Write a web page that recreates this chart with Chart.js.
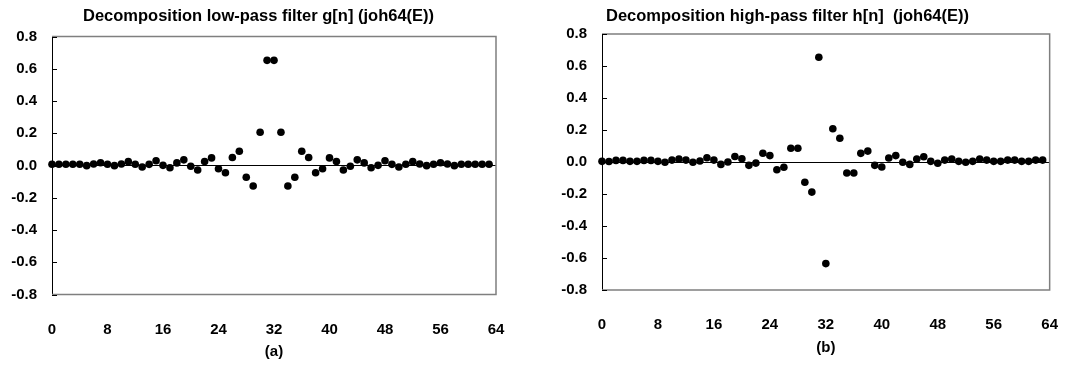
<!DOCTYPE html>
<html>
<head>
<meta charset="utf-8">
<script src="https://cdn.jsdelivr.net/npm/chart.js@4.4.0/dist/chart.umd.min.js"></script>
<style>
  body { margin: 0; background: #fff; }
  #wrap { position: relative; width: 1076px; height: 367px; }
  canvas { position: absolute; top: 0; }
  #lowChart { left: 0; }
  #highChart { left: 540px; }
  .ttl {
    position: absolute;
    top: 6px;
    font: bold 16.5px 'Liberation Sans', Arial, sans-serif;
    line-height: 19px;
    white-space: pre;
    color: #000;
  }
</style>
</head>
<body>
<div id="wrap">
  <canvas id="lowChart" width="540" height="367"></canvas>
  <canvas id="highChart" width="536" height="367"></canvas>
  <div class="ttl" id="lowTitle" style="left:83px"></div>
  <div class="ttl" id="highTitle" style="left:606px"></div>
</div>
<script>
// tick labels
const xTicks = [0, 8, 16, 24, 32, 40, 48, 56, 64];
const yTicks = [-0.8, -0.6, -0.4, -0.2, 0, 0.2, 0.4, 0.6, 0.8];

// g[n], n = 0..63
const lowPass = [
  0.008, 0.008, 0.008, 0.008, 0.008, -0.001, 0.009, 0.017,
  0.008, -0.001, 0.009, 0.024, 0.008, -0.009, 0.007, 0.029,
  0.001, -0.014, 0.016, 0.035, -0.005, -0.028, 0.025, 0.047,
  -0.020, -0.045, 0.050, 0.088, -0.073, -0.127, 0.206, 0.652,
  0.652, 0.206, -0.127, -0.073, 0.088, 0.050, -0.045, -0.020,
  0.047, 0.025, -0.028, -0.005, 0.035, 0.016, -0.014, 0.001,
  0.029, 0.007, -0.009, 0.008, 0.024, 0.009, -0.001, 0.008,
  0.017, 0.009, -0.001, 0.008, 0.008, 0.008, 0.008, 0.008
];

// h[n], n = 0..63
const highPass = [
  0.004, 0.003, 0.010, 0.010, 0.004, 0.004, 0.010, 0.010,
  0.004, -0.002, 0.012, 0.019, 0.012, -0.002, 0.006, 0.027,
  0.012, -0.015, 0.000, 0.034, 0.020, -0.021, -0.007, 0.055,
  0.040, -0.048, -0.033, 0.086, 0.086, -0.127, -0.188, 0.655,
  -0.635, 0.208, 0.148, -0.069, -0.069, 0.054, 0.068, -0.021,
  -0.031, 0.025, 0.040, -0.002, -0.015, 0.019, 0.033, 0.004,
  -0.008, 0.012, 0.019, 0.004, -0.002, 0.004, 0.019, 0.012,
  0.004, 0.004, 0.012, 0.012, 0.004, 0.004, 0.012, 0.012
];

const lowTitle = 'Decomposition low-pass filter g[n] (joh64(E))';
const highTitle = 'Decomposition high-pass filter h[n]  (joh64(E))';

const FONT = "'Liberation Sans', Arial, sans-serif";

// grey frame on top/right/bottom + short inward ticks on the y axis
const plotFrame = {
  id: 'plotFrame',
  beforeDatasetsDraw(chart) {
    const { ctx, chartArea: a } = chart;
    const y = chart.scales.y;
    ctx.save();
    ctx.strokeStyle = '#7f7f7f';
    ctx.lineWidth = 1.5;
    ctx.beginPath();
    ctx.moveTo(a.left, a.top);
    ctx.lineTo(a.right, a.top);
    ctx.lineTo(a.right, a.bottom);
    ctx.lineTo(a.left, a.bottom);
    ctx.stroke();
    ctx.strokeStyle = '#000';
    ctx.lineWidth = 1;
    ctx.beginPath();
    y.ticks.forEach(t => {
      const py = Math.round(y.getPixelForValue(t.value)) + 0.5;
      ctx.moveTo(a.left, py);
      ctx.lineTo(a.left + 5, py);
    });
    ctx.stroke();
    ctx.restore();
  }
};

function makeChart(id, sub, values, cfg) {
  return new Chart(document.getElementById(id), {
    type: 'scatter',
    data: {
      datasets: [{
        data: values.map((v, n) => ({ x: n, y: v })),
        backgroundColor: '#000',
        borderWidth: 0,
        pointRadius: 3.8,
        pointHoverRadius: 3.8,
        clip: false
      }]
    },
    options: {
      responsive: false,
      animation: false,
      devicePixelRatio: 1,
      layout: { padding: { left: 0, right: cfg.padRight, top: cfg.padTop, bottom: 0 } },
      plugins: {
        legend: { display: false },
        tooltip: { enabled: false },
        title: { display: false }
      },
      scales: {
        x: {
          type: 'linear',
          min: 0,
          max: 64,
          afterBuildTicks: s => { s.ticks = xTicks.map(v => ({ value: v })); },
          afterFit: s => { s.height = cfg.xHeight; },
          grid: { display: false },
          border: { display: false },
          ticks: {
            color: '#000',
            padding: 18,
            maxRotation: 0,
            font: { family: FONT, size: 15, weight: 'bold' }
          },
          title: {
            display: true,
            text: sub,
            color: '#000',
            font: { family: FONT, size: 15, weight: 'bold' },
            padding: { top: 0, bottom: cfg.subBottom }
          }
        },
        y: {
          min: -0.8,
          max: 0.8,
          afterBuildTicks: s => { s.ticks = yTicks.map(v => ({ value: v })); },
          afterFit: s => { s.width = cfg.yWidth; },
          grid: {
            drawTicks: false,
            lineWidth: 1,
            color: c => (Math.abs(c.tick.value) < 1e-9 ? '#000' : 'rgba(0,0,0,0)')
          },
          border: { display: true, color: '#000', width: 1 },
          ticks: {
            color: '#000',
            padding: 15,
            font: { family: FONT, size: 15, weight: 'bold' },
            callback: v => v.toFixed(1)
          }
        }
      }
    },
    plugins: [plotFrame]
  });
}

document.getElementById('lowTitle').textContent = lowTitle;
document.getElementById('highTitle').textContent = highTitle;

makeChart('lowChart', '(a)', lowPass, {
  padRight: 44, padTop: 36.5, yWidth: 52, xHeight: 72.5, subBottom: 6
});

makeChart('highChart', '(b)', highPass, {
  padRight: 24, padTop: 34, yWidth: 62, xHeight: 77, subBottom: 10
});
</script>
</body>
</html>
